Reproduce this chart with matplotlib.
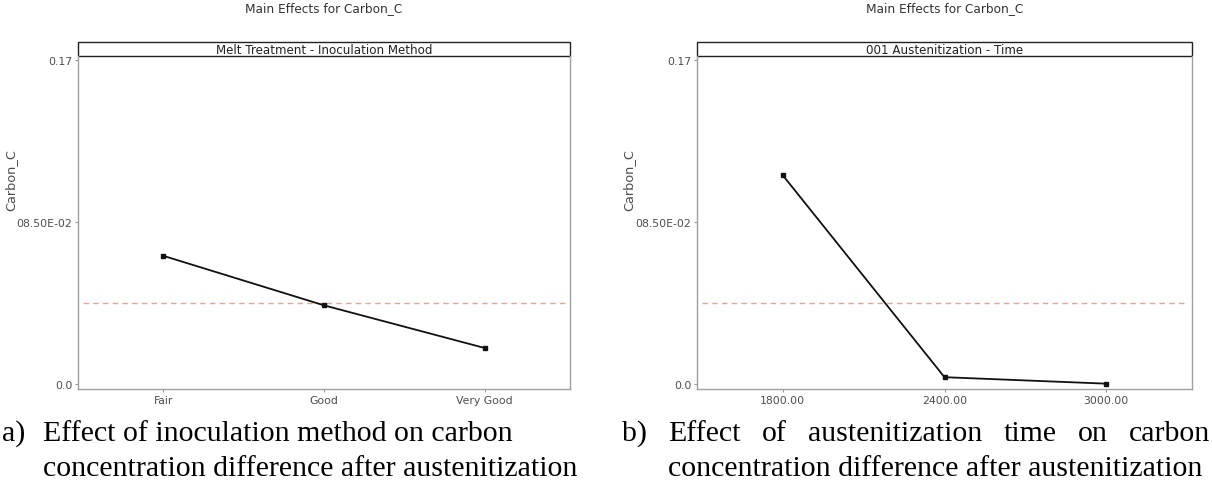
import matplotlib
matplotlib.use("Agg")
import matplotlib.pyplot as plt
from matplotlib.patches import Rectangle

# values
levels_a = ["Fair", "Good", "Very Good"]
carbon_a = [0.0673, 0.0413, 0.0189]
levels_b = ["1800.00", "2400.00", "3000.00"]
carbon_b = [0.1096, 0.0036, 0.0002]
grand_mean = 0.0425
yticks = [0.0, 0.085, 0.17]
ytick_labels = ["0.0", "08.50E-02", "0.17"]

main_title = "Main Effects for Carbon_C"
strip_a = "Melt Treatment - Inoculation Method"
strip_b = "001 Austenitization - Time"
cap_a1 = "Effect of inoculation method on carbon"
cap_a2 = "concentration difference after austenitization"
cap_b1 = "Effect of austenitization time on carbon"
cap_b2 = "concentration difference after austenitization"

W, H = 1212, 481
fig = plt.figure(figsize=(W / 100, H / 100), dpi=100)

def effects_panel(rect, levels, values, strip):
    ax = fig.add_axes(rect)
    xs = list(range(len(levels)))
    ax.plot(xs, values, color="#111111", lw=1.3, marker="s", ms=2.2, zorder=3)
    ax.axhline(grand_mean, xmin=0.01, xmax=0.99, color="#f2a28c", lw=1,
               dashes=(4, 3), zorder=2)
    ax.set_xlim(-0.53, len(levels) - 1 + 0.53)
    ax.set_ylim(-0.0026, 0.1723)
    ax.set_xticks(xs)
    ax.set_xticklabels(levels)
    ax.set_yticks(yticks)
    ax.set_yticklabels(ytick_labels)
    ax.tick_params(labelsize=7.8, labelcolor="#4d4d4d", color="#999999",
                   length=2.5, width=0.8, pad=1.5)
    for s in ["left", "bottom", "right"]:
        ax.spines[s].set_color("#a0a0a0")
        ax.spines[s].set_linewidth(1)
    ax.spines["top"].set_visible(False)
    ax.set_ylabel("Carbon_C", fontsize=9.3, color="#4d4d4d")
    ax.yaxis.set_label_coords(-0.124, 0.63)
    # strip header above the plotting area
    sh = 13.4 / (rect[3] * H)
    ax.add_patch(Rectangle((0, 1), 1, sh, transform=ax.transAxes,
                           facecolor="white", edgecolor="#222222", lw=1,
                           clip_on=False))
    ax.text(0.5, 1 + sh / 2, strip, transform=ax.transAxes, ha="center",
            va="center", fontsize=8.6, color="#222222")
    fig.text(rect[0] + rect[2] / 2, 1 - 8.5 / H, main_title, ha="center",
             va="center", fontsize=8.7, color="#333333")
    return ax

effects_panel([78 / W, 1 - 390 / H, 492 / W, 333.3 / H], levels_a, carbon_a, strip_a)
effects_panel([697 / W, 1 - 390 / H, 495 / W, 333.3 / H], levels_b, carbon_b, strip_b)

# captions underneath, Times-like serif
cap = dict(family="Liberation Serif", fontsize=21.5, color="black", va="baseline")
y1, y2 = 1 - 441 / H, 1 - 476 / H
fig.text(2 / W, y1, "a)", **cap)
fig.text(43 / W, y1, cap_a1, **cap)
fig.text(43 / W, y2, cap_a2, **cap)
fig.text(622 / W, y1, "b)", **cap)
fig.text(668 / W, y2, cap_b2, **cap)

# justified first line of caption b
words = [fig.text(0, y1, w, **cap) for w in cap_b1.split()]
r = fig.canvas.get_renderer()
widths = [t.get_window_extent(r).width for t in words]
x0, x1 = 668, 1210
gap = (x1 - x0 - sum(widths)) / (len(words) - 1)
x = x0
for t, w in zip(words, widths):
    t.set_x(x / W)
    x += w + gap

fig.savefig("out.png", dpi=100)
